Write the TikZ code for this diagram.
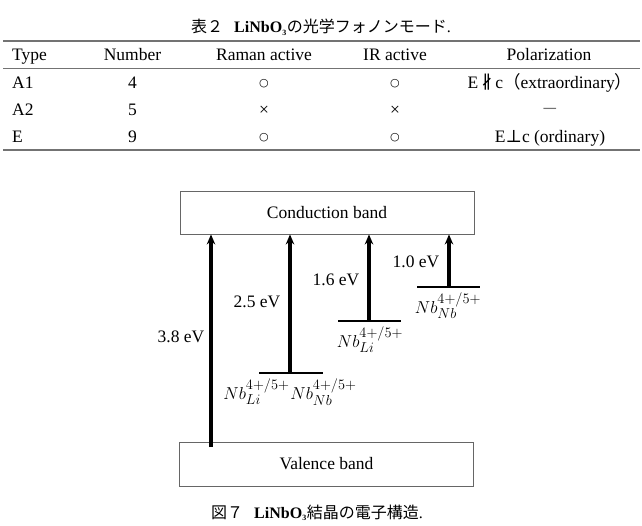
\documentclass[tikz,border=0pt]{standalone}
\usepackage{fontspec}
\setmainfont{Liberation Serif}
\newfontfamily\jp{Noto Sans CJK JP}
\newfontfamily\symf{DejaVu Serif}
\newfontfamily\symsans{DejaVu Sans}
\usetikzlibrary{arrows.meta}
\begin{document}
\begin{tikzpicture}[x=1pt,y=-1pt,
  tbl/.style={font=\fontsize{17.5}{20}\selectfont, inner sep=0pt, anchor=base},
  tblL/.style={tbl, anchor=base west},
  rulethick/.style={draw=black!55, line width=1.4pt},
  rulethin/.style={draw=black!55, line width=0.9pt},
  captext/.style={font=\fontsize{16}{19}\selectfont, inner sep=0pt},
  band/.style={draw=black!60, line width=0.9pt, minimum width=294pt, minimum height=43pt, inner sep=0pt, font=\fontsize{17.5}{20}\selectfont},
  arr/.style={line width=3.2pt, -{Stealth[length=10pt,width=8.5pt]}},
  lvl/.style={line width=1.4pt},
  ev/.style={font=\fontsize{17.5}{20}\selectfont, inner sep=0pt},
  nb/.style={font=\fontsize{19}{22}\selectfont, inner sep=0pt},
  circ/.style={inner sep=0pt, font=\symsans\fontsize{11}{12}\selectfont}
]
\useasboundingbox (0,0) rectangle (642,526);
% ---------- table ----------
\node[captext] (tcap) at (321,27) {{\jp 表２}\hspace{11pt}\textbf{LiNbO\textsubscript{\footnotesize 3}}{\jp の光学フォノンモード}.};
\coordinate (r1a) at (3,41); \coordinate (r1b) at (640,41);
\coordinate (r2a) at (3,68); \coordinate (r2b) at (640,68);
\coordinate (r3a) at (3,150); \coordinate (r3b) at (640,150);
\draw[rulethick] (r1a) -- (r1b);
\draw[rulethin] (r2a) -- (r2b);
\draw[rulethick] (r3a) -- (r3b);
% header
\node[tblL] (hType) at (12,61) {Type};
\node[tbl] (hNum) at (132.5,61) {Number};
\node[tbl] (hRam) at (264,61) {Raman active};
\node[tbl] (hIR) at (395,61) {IR active};
\node[tbl] (hPol) at (549,61) {Polarization};
% rows
\node[tblL] (t1) at (12,89) {A1};
\node[tbl] (n1) at (132.5,89) {4};
\node[circ] (ra1) at (264,84) {○};
\node[circ] (ir1) at (395,84) {○};
\node[tbl] (p1) at (550,89) {E\,{\symf ∦}\,c{\jp（}extraordinary{\jp ）}};
\node[tblL] (t2) at (12,116) {A2};
\node[tbl] (n2) at (132.5,116) {5};
\node[tbl] (ra2) at (264,116) {×};
\node[tbl] (ir2) at (395,116) {×};
\node[tbl] (p2) at (550,116) {\color{black!55}{\jp －}};
\node[tblL] (t3) at (12,143) {E};
\node[tbl] (n3) at (132.5,143) {9};
\node[circ] (ra3) at (264,138) {○};
\node[circ] (ir3) at (395,138) {○};
\node[tbl] (p3) at (550,143) {E{\symf ⊥}c (ordinary)};
% ---------- band diagram ----------
\node[band] (cb) at (327,212.5) {Conduction band};
\node[band, minimum height=44pt] (vb) at (326.5,464) {Valence band};
% levels
\coordinate (l2a) at (259,373); \coordinate (l2b) at (323,373);
\coordinate (l3a) at (338,321); \coordinate (l3b) at (401,321);
\coordinate (l4a) at (417,287); \coordinate (l4b) at (480,287);
\draw[lvl] (l2a) -- (l2b);
\draw[lvl] (l3a) -- (l3b);
\draw[lvl] (l4a) -- (l4b);
% arrow starts
\coordinate (s1) at (211,447);
\coordinate (s2) at (290,373);
\coordinate (s3) at (369,321);
\coordinate (s4) at (449,287);
\draw[arr] (s1) -- (s1 |- cb.south);
\draw[arr] (s2) -- (s2 |- cb.south);
\draw[arr] (s3) -- (s3 |- cb.south);
\draw[arr] (s4) -- (s4 |- cb.south);
% energies
\node[ev] (e1) at (181,337) {3.8 eV};
\node[ev] (e2) at (257,302) {2.5 eV};
\node[ev] (e3) at (336,280) {1.6 eV};
\node[ev] (e4) at (416,262) {1.0 eV};
% defect labels
\node[nb] (d1) at (256.5,392) {$Nb_{Li}^{4+/5+}$};
\node[nb] (d2) at (323.5,392) {$Nb_{Nb}^{4+/5+}$};
\node[nb] (d3) at (370,340) {$Nb_{Li}^{4+/5+}$};
\node[nb] (d4) at (448,306) {$Nb_{Nb}^{4+/5+}$};
% caption
\node[captext] (fcap) at (317,513) {{\jp 図７}\hspace{11pt}\textbf{LiNbO\textsubscript{\footnotesize 3}}{\jp 結晶の電子構造}.};
\end{tikzpicture}
\end{document}
